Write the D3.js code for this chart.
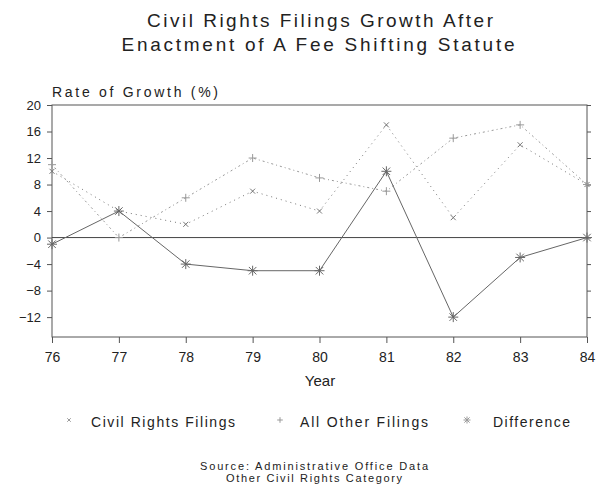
<!DOCTYPE html>
<html>
<head>
<meta charset="utf-8">
<script src="https://cdn.jsdelivr.net/npm/d3@7"></script>
<style>
  body { margin: 0; background: #fff; }
  svg { display: block; font-family: "Liberation Sans", Arial, sans-serif; }
  text { fill: #222; }
</style>
</head>
<body>
<svg id="chart" width="597" height="484"></svg>
<script>
// values
var years = [76, 77, 78, 79, 80, 81, 82, 83, 84];
var civilRights = [10, 4, 2, 7, 4, 17, 3, 14, 8];
var allOther = [11, 0, 6, 12, 9, 7, 15, 17, 8];
var difference = [-1, 4, -4, -5, -5, 10, -12, -3, 0];
var yTicks = [-12, -8, -4, 0, 4, 8, 12, 16, 20];
var seriesNames = ["Civil Rights Filings", "All Other Filings", "Difference"];

var svg = d3.select("#chart");
var margin = {top: 105, right: 10, bottom: 147, left: 52},
    width = 597 - margin.left - margin.right,
    height = 484 - margin.top - margin.bottom;

var x = d3.scaleLinear().domain([76, 84]).range([margin.left, margin.left + width]);
var y = d3.scaleLinear().domain([-15, 20]).range([margin.top + height, margin.top]);

// title
svg.append("text").attr("x", 320).attr("y", 27).attr("text-anchor", "middle")
  .attr("font-size", 19).attr("textLength", 346).attr("lengthAdjust", "spacing")
  .text("Civil Rights Filings Growth After");
svg.append("text").attr("x", 318).attr("y", 51).attr("text-anchor", "middle")
  .attr("font-size", 19).attr("textLength", 393).attr("lengthAdjust", "spacing")
  .text("Enactment of A Fee Shifting Statute");

svg.append("text").attr("x", 52).attr("y", 97).attr("font-size", 14)
  .attr("textLength", 166).attr("lengthAdjust", "spacing")
  .text("Rate of Growth (%)");

// frame
svg.append("rect")
  .attr("x", margin.left).attr("y", margin.top)
  .attr("width", width).attr("height", height)
  .attr("fill", "none").attr("stroke", "#555").attr("stroke-width", 1);

// axes
var yAxis = svg.append("g")
  .attr("transform", "translate(" + margin.left + ",0)")
  .call(d3.axisLeft(y).tickValues(yTicks).tickSize(5).tickPadding(6));
var yAxisR = svg.append("g")
  .attr("transform", "translate(" + (margin.left + width) + ",0)")
  .call(d3.axisRight(y).tickValues(yTicks).tickSize(4).tickFormat(""));
var xAxis = svg.append("g")
  .attr("transform", "translate(0," + (margin.top + height) + ")")
  .call(d3.axisBottom(x).tickValues(years).tickSize(6).tickPadding(9).tickFormat(d3.format("d")));

[yAxis, yAxisR, xAxis].forEach(function(a) {
  a.select(".domain").remove();
  a.selectAll("line").attr("stroke", "#555");
  a.selectAll("text").attr("fill", "#222").attr("font-family", "Liberation Sans, Arial, sans-serif");
});
yAxis.selectAll("text").attr("font-size", 13);
xAxis.selectAll("text").attr("font-size", 14);

svg.append("text").attr("x", 320).attr("y", 386).attr("text-anchor", "middle")
  .attr("font-size", 15).text("Year");

// zero line
svg.append("line")
  .attr("x1", margin.left).attr("x2", margin.left + width)
  .attr("y1", y(0)).attr("y2", y(0))
  .attr("stroke", "#444").attr("stroke-width", 1);

var line = d3.line()
  .x(function(d) { return x(d[0]); })
  .y(function(d) { return y(d[1]); });

function pairs(vals) {
  return years.map(function(yr, i) { return [yr, vals[i]]; });
}

// marker shapes
function markX(g, cx, cy, s, col) {
  g.append("path").attr("d", "M" + (cx - s) + "," + (cy - s) + "L" + (cx + s) + "," + (cy + s) +
    "M" + (cx - s) + "," + (cy + s) + "L" + (cx + s) + "," + (cy - s))
    .attr("stroke", col).attr("stroke-width", 1).attr("fill", "none");
}
function markPlus(g, cx, cy, s, col) {
  g.append("path").attr("d", "M" + (cx - s) + "," + cy + "L" + (cx + s) + "," + cy +
    "M" + cx + "," + (cy - s) + "L" + cx + "," + (cy + s))
    .attr("stroke", col).attr("stroke-width", 1).attr("fill", "none");
}
function markStar(g, cx, cy, s, col) {
  markPlus(g, cx, cy, s, col);
  markX(g, cx, cy, s * 0.75, col);
}

var series = [
  {vals: civilRights, dash: "1,4", color: "#777", mark: markX, size: 2.5},
  {vals: allOther, dash: "1,3,2,3", color: "#999", mark: markPlus, size: 4},
  {vals: difference, dash: null, color: "#666", mark: markStar, size: 5}
];

series.forEach(function(s) {
  var g = svg.append("g");
  g.append("path").datum(pairs(s.vals))
    .attr("d", line).attr("fill", "none")
    .attr("stroke", s.color).attr("stroke-width", 1)
    .attr("stroke-dasharray", s.dash);
  pairs(s.vals).forEach(function(p) {
    s.mark(g, x(p[0]), y(p[1]), s.size, s.color);
  });
});

// legend
var legendMarkX = [69, 280, 467];
var legendTextX = [91, 300, 493];
var legendW = [144, 128, 77];
seriesNames.forEach(function(name, i) {
  var g = svg.append("g");
  series[i].mark(g, legendMarkX[i], 420, series[i].size * 0.7, "#999");
  g.append("text").attr("x", legendTextX[i]).attr("y", 427)
    .attr("font-size", 14).attr("textLength", legendW[i]).attr("lengthAdjust", "spacing")
    .text(name);
});

// source note
svg.append("text").attr("x", 314).attr("y", 470).attr("text-anchor", "middle")
  .attr("font-size", 11).attr("textLength", 228).attr("lengthAdjust", "spacing")
  .text("Source: Administrative Office Data");
svg.append("text").attr("x", 314).attr("y", 482).attr("text-anchor", "middle")
  .attr("font-size", 11).attr("textLength", 176).attr("lengthAdjust", "spacing")
  .text("Other Civil Rights Category");
</script>
</body>
</html>
